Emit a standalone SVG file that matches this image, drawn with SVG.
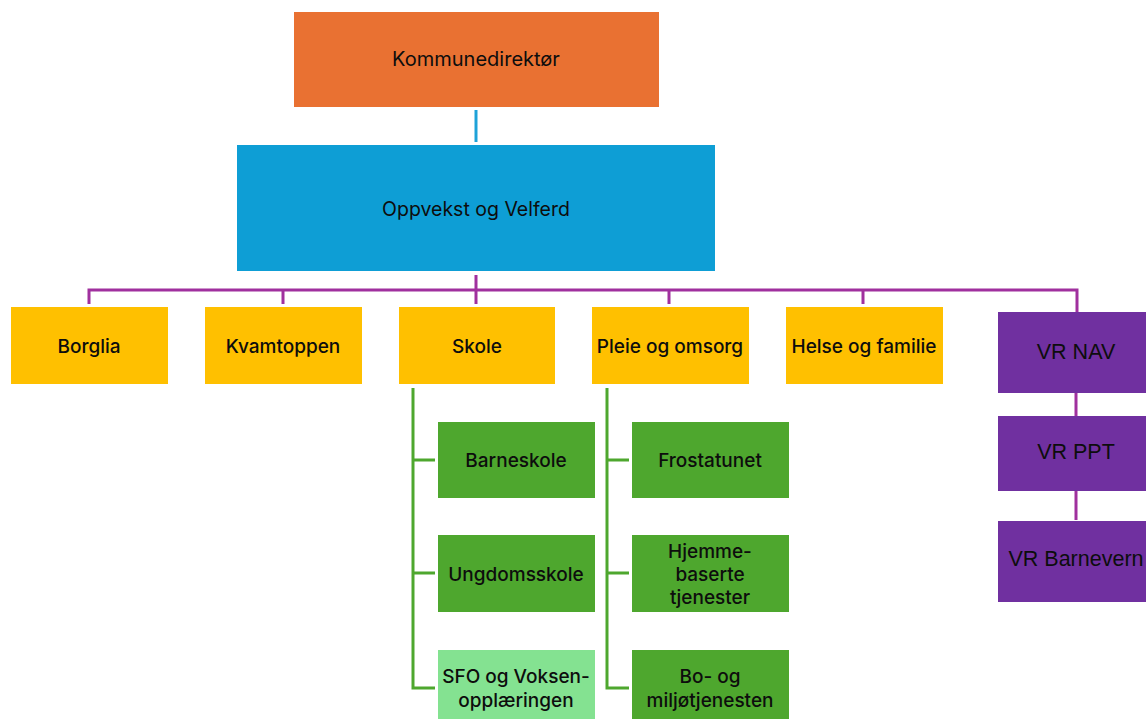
<svg xmlns="http://www.w3.org/2000/svg" width="1146" height="719" viewBox="0 0 1146 719">
<style>
text{font-family:Inter,"Open Sans","Liberation Sans",sans-serif;fill:#0d0d0d;text-anchor:middle;dominant-baseline:central}
.t{font-size:20px}
.m{font-size:19px;font-weight:500}
.vr{font-family:"Liberation Sans",Arial,sans-serif;font-size:21.5px}
.y{fill:#FFC000}
.g{fill:#4EA72E}
.p{fill:#7030A0}
.pl{stroke:#A0309E;stroke-width:3;fill:none}
.gl{stroke:#4EA72E;stroke-width:3;fill:none}
</style>
<rect width="1146" height="719" fill="#fff"/>
<g id="connectors">
<line x1="476" y1="110" x2="476" y2="142" stroke="#1EA2D8" stroke-width="3"/>
<path class="pl" d="M89 304V290H1077V313M283 290V304M476 275V304M669 290V304M863 290V304"/>
<path class="pl" d="M1076 393V416M1076 491V520"/>
<path class="gl" d="M413 388V688H435M413 460H435M413 573H435"/>
<path class="gl" d="M607 388V688H629M607 460H629M607 573H629"/>
</g>
<g id="kommunedirektor"><rect x="294" y="12" width="365" height="95" fill="#E97132"/><text class="t" x="476" y="59">Kommunedirektør</text></g>
<g id="oppvekst"><rect x="237" y="145" width="478" height="126" fill="#0E9ED5"/><text x="476" y="209" style="font-size:19.5px">Oppvekst og Velferd</text></g>
<g id="borglia"><rect class="y" x="11" y="307" width="157" height="77"/><text class="m" x="89" y="346">Borglia</text></g>
<g id="kvamtoppen"><rect class="y" x="205" y="307" width="157" height="77"/><text class="m" x="283" y="346">Kvamtoppen</text></g>
<g id="skole"><rect class="y" x="399" y="307" width="156" height="77"/><text class="m" x="477" y="346">Skole</text></g>
<g id="pleie"><rect class="y" x="592" y="307" width="157" height="77"/><text class="m" x="670" y="346">Pleie og omsorg</text></g>
<g id="helse"><rect class="y" x="786" y="307" width="157" height="77"/><text class="m" x="864" y="346">Helse og familie</text></g>
<g id="vrnav"><rect class="p" x="998" y="312" width="160" height="81"/><text class="vr" x="1076" y="352">VR NAV</text></g>
<g id="vrppt"><rect class="p" x="998" y="416" width="160" height="75"/><text class="vr" x="1076" y="452">VR PPT</text></g>
<g id="vrbarnevern"><rect class="p" x="998" y="521" width="160" height="81"/><text class="vr" x="1076" y="559">VR Barnevern</text></g>
<g id="barneskole"><rect class="g" x="438" y="422" width="157" height="76"/><text class="m" x="516" y="460">Barneskole</text></g>
<g id="ungdomsskole"><rect class="g" x="438" y="535" width="157" height="77"/><text class="m" x="516" y="574">Ungdomsskole</text></g>
<g id="sfo"><rect x="438" y="650" width="157" height="77" fill="#84E291"/><text class="m" x="516" y="676">SFO og Voksen-</text><text class="m" x="516" y="700">opplæringen</text></g>
<g id="frostatunet"><rect class="g" x="632" y="422" width="157" height="76"/><text class="m" x="710" y="460">Frostatunet</text></g>
<g id="hjemme"><rect class="g" x="632" y="535" width="157" height="77"/><text class="m" x="710" y="551">Hjemme-</text><text class="m" x="710" y="574">baserte</text><text class="m" x="710" y="597">tjenester</text></g>
<g id="bo"><rect class="g" x="632" y="650" width="157" height="77"/><text class="m" x="710" y="676">Bo- og</text><text class="m" x="710" y="700">miljøtjenesten</text></g>
</svg>
